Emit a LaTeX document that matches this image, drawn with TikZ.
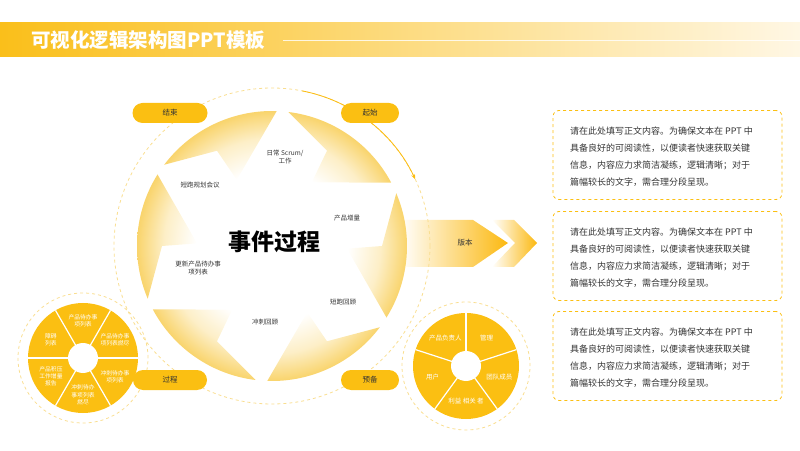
\documentclass[tikz,border=0pt]{standalone}
\usepackage{fontspec}
\setmainfont{Noto Sans CJK SC}
\usetikzlibrary{arrows.meta,calc}

\definecolor{gold}{HTML}{FBBF12}
\definecolor{ringy}{HTML}{F9D46C}
\definecolor{dashy}{HTML}{F9DE90}
\definecolor{ink}{HTML}{333333}
\definecolor{barl}{HTML}{FABF1A}
\definecolor{barr}{HTML}{FFF7E4}
\colorlet{ringmid}{ringy!38!white}
\pgfdeclareradialshading{ringfade}{\pgfpoint{0bp}{0bp}}{color(0bp)=(white); color(14bp)=(white); color(20bp)=(ringmid); color(25bp)=(ringy); color(50bp)=(ringy)}

\begin{document}
\begin{tikzpicture}[x=1pt,y=1pt,
    pill/.style={fill=gold,rounded corners=10pt,minimum height=20pt,inner sep=0pt,font=\fontsize{7.5}{8}\selectfont,text=ink},
    lbl/.style={font=\fontsize{6.5}{8}\selectfont,text=ink,align=center,inner sep=0pt},
    wlbl/.style={font=\fontsize{5.8}{7.2}\selectfont,text=white,align=center,inner sep=0pt},
    tbox/.style={draw=gold,dashed,line width=0.8pt,rounded corners=6pt,minimum width=229pt,minimum height=89pt},
    body/.style={font=\fontsize{9}{17}\selectfont,text=ink,align=left,inner sep=0pt,anchor=west},
    ring/.style={draw=dashy,dashed,line width=0.8pt}]
    \useasboundingbox (0,0) rectangle (800,450);

    % title bar
    \shade[left color=barl,middle color=barl!45!white,right color=barr] (0,393) rectangle (800,427);
    \draw[white,opacity=0.8,line width=0.6pt] (283,410) -- (800,410);
    \node[anchor=west,text=white,font=\fontsize{19.5}{20}\selectfont\bfseries,inner sep=0pt] (title) at (31,410) {可视化逻辑架构图PPT模板};

    % version arrow
    \shade[left color=white,right color=gold!90!orange] (400,230) -- (473,230) -- (508,207) -- (473,183) -- (400,183) -- cycle;
    \shade[left color=white,right color=gold!90!orange] (492,230) -- (514,230) -- (537,207) -- (514,183) -- (492,183) -- (515,207) -- cycle;
    \node[lbl,font=\fontsize{7.5}{8}\selectfont] (banben) at (465,207) {版本};

    % big circle
    \coordinate (c) at (272,204);
    \draw[ring] (c) circle (158);
    \begin{scope}[shift={(c)}]
        \clip foreach \h in {28,88,...,328} {(\h:135) -- (\h+30:75) -- (\h+32:110) -- (\h+55:135) arc[start angle=\h+55,end angle=\h,radius=135] -- cycle};
        \shade[shading=ringfade] (0,0) circle (135);
    \end{scope}
    \draw[gold!95!orange,line width=0.8pt,-{Stealth[length=5pt,width=4pt]}] ($(c)+(79:158)$) arc[start angle=79,end angle=25,radius=158];

    \node[font=\fontsize{23}{24}\selectfont\bfseries,inner sep=0pt] (event) at (274,208) {事件过程};
    \node[lbl] (plan) at (200,265) {短跑规划会议};
    \node[lbl] (daily) at (285,293) {日常 Scrum/\\工作};
    \node[lbl] (incr) at (347,232) {产品增量};
    \node[lbl] (review) at (343,148) {短跑回顾};
    \node[lbl] (retro) at (265,128) {冲刺回顾};
    \node[lbl] (update) at (198,182) {更新产品待办事\\项列表};

    % left disk
    \coordinate (l) at (83,92);
    \draw[ring] (l) circle (65);
    \fill[gold] (l) circle (55);
    \foreach \a in {0,60,...,300}
        \draw[white,line width=1.2pt] (l) -- ++(\a:55);
    \fill[white] (l) circle (15);
    \node[wlbl] (l1) at ($(l)+(90:37)$) {产品待办事\\项列表};
    \node[wlbl] (l2) at ($(l)+(30:37)$) {产品待办事\\项列表燃尽};
    \node[wlbl] (l3) at ($(l)+(-30:37)$) {冲刺待办事\\项列表};
    \node[wlbl] (l4) at ($(l)+(-90:37)$) {冲刺待办\\事项列表\\燃尽};
    \node[wlbl] (l5) at ($(l)+(-150:37)$) {产品积压\\工作增量\\报告};
    \node[wlbl] (l6) at ($(l)+(150:37)$) {障碍\\列表};

    % right disk
    \coordinate (r) at (466,84);
    \draw[ring] (r) circle (64);
    \fill[gold] (r) circle (53);
    \foreach \a in {90,18,-54,-126,162}
        \draw[white,line width=1.2pt] (r) -- ++(\a:53);
    \fill[white] (r) circle (15);
    \node[wlbl,font=\fontsize{6.5}{8}\selectfont] (r1) at ($(r)+(126:35)$) {产品负责人};
    \node[wlbl,font=\fontsize{6.5}{8}\selectfont] (r2) at ($(r)+(54:35)$) {管理};
    \node[wlbl,font=\fontsize{6.5}{8}\selectfont] (r3) at ($(r)+(-18:35)$) {团队成员};
    \node[wlbl,font=\fontsize{6.5}{8}\selectfont] (r4) at ($(r)+(-90:35)$) {利益 相关 者};
    \node[wlbl,font=\fontsize{6.5}{8}\selectfont] (r5) at ($(r)+(198:35)$) {用户};

    % pills
    \node[pill,minimum width=75pt] (jieshu) at (170,337) {结束};
    \node[pill,minimum width=58pt] (qishi) at (370,337) {起始};
    \node[pill,minimum width=74pt] (guocheng) at (170,70) {过程};
    \node[pill,minimum width=58pt] (yubei) at (370,70) {预备};

    % text boxes
    \foreach \y/\n in {295/a,194/b,94/c} {
        \node[tbox] (box\n) at (667.5,\y) {};
        \node[body] (txt\n) at (570,\y-2) {请在此处填写正文内容。为确保文本在 PPT 中\\具备良好的可阅读性，以便读者快速获取关键\\信息，内容应力求简洁凝练，逻辑清晰；对于\\篇幅较长的文字，需合理分段呈现。};
    }
\end{tikzpicture}
\end{document}
